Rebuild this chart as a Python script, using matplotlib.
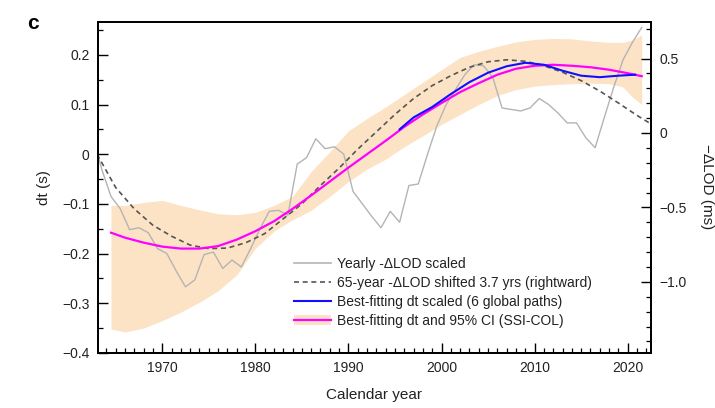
import numpy as np
import matplotlib
matplotlib.use("Agg")
import matplotlib.pyplot as plt
from matplotlib.lines import Line2D
from matplotlib.patches import Patch
from matplotlib.ticker import MultipleLocator, FuncFormatter

plt.rcParams['font.family'] = ['Liberation Sans', 'DejaVu Sans']

# yearly -dLOD scaled (values at mid-year)
lod_year = np.arange(1962, 2022) + 0.5
lod_yearly = [0.04, -0.03, -0.085, -0.11, -0.152, -0.148, -0.158, -0.19, -0.2, -0.235,
              -0.267, -0.253, -0.202, -0.197, -0.23, -0.213, -0.227, -0.19, -0.15, -0.115,
              -0.113, -0.123, -0.02, -0.007, 0.031, 0.011, 0.015, 0.0, -0.075, -0.10,
              -0.125, -0.148, -0.115, -0.137, -0.063, -0.06, 0.0, 0.057, 0.1, 0.13,
              0.16, 0.18, 0.178, 0.155, 0.093, 0.09, 0.087, 0.093, 0.112, 0.1,
              0.083, 0.063, 0.063, 0.033, 0.013, 0.075, 0.135, 0.19, 0.225, 0.255]

# 65-year -dLOD shifted 3.7 yrs
lod65_year = [1963, 1965, 1967, 1969, 1971, 1973, 1975, 1977, 1979, 1981, 1983, 1985,
              1987, 1989, 1991, 1993, 1995, 1997, 1999, 2001, 2003, 2005, 2007, 2009,
              2011, 2013, 2015, 2017, 2019, 2021, 2022.4]
lod65 = [0.0, -0.067, -0.11, -0.143, -0.165, -0.183, -0.19, -0.189, -0.178, -0.16, -0.13, -0.1,
         -0.063, -0.028, 0.01, 0.045, 0.08, 0.112, 0.138, 0.158, 0.175, 0.186, 0.19, 0.187,
         0.178, 0.165, 0.148, 0.127, 0.103, 0.078, 0.062]

# best-fitting dt (SSI-COL)
ssi_year = [1964.5, 1966, 1968, 1970, 1972, 1974, 1976, 1978, 1980, 1982, 1984, 1986, 1988,
            1990, 1992, 1994, 1996, 1998, 2000, 2002, 2004, 2006, 2008, 2010, 2012, 2014,
            2016, 2018, 2020, 2021.5]
ssi_dt = [-0.158, -0.168, -0.178, -0.186, -0.19, -0.19, -0.185, -0.172, -0.155, -0.135, -0.11,
          -0.083, -0.055, -0.027, 0.0, 0.027, 0.055, 0.08, 0.103, 0.125, 0.143, 0.16, 0.172,
          0.178, 0.18, 0.178, 0.175, 0.17, 0.163, 0.157]

# 95% CI
ci_year = [1964.5, 1966, 1968, 1970, 1972, 1974, 1976, 1978, 1980, 1982, 1984, 1986, 1988,
           1990, 1992, 1994, 1996, 1998, 2000, 2002, 2004, 2006, 2008, 2010, 2012, 2014,
           2016, 2018, 2019.5, 2020.5, 2021.5]
ci_hi = [-0.103, -0.103, -0.097, -0.093, -0.103, -0.112, -0.12, -0.122, -0.117, -0.103, -0.085,
         -0.035, 0.005, 0.047, 0.072, 0.095, 0.12, 0.145, 0.17, 0.195, 0.207, 0.217, 0.226, 0.231,
         0.233, 0.232, 0.228, 0.225, 0.225, 0.23, 0.24]
ci_lo = [-0.352, -0.358, -0.35, -0.335, -0.318, -0.298, -0.275, -0.243, -0.19, -0.155, -0.132,
         -0.113, -0.085, -0.055, -0.03, -0.01, 0.015, 0.037, 0.06, 0.08, 0.1, 0.118, 0.13,
         0.137, 0.14, 0.142, 0.143, 0.142, 0.135, 0.115, 0.1]

# best-fitting dt scaled (6 global paths)
paths_year = [1995.5, 1997, 1999, 2001, 2003, 2005, 2007, 2009, 2011, 2013, 2015, 2017, 2019, 2020.8]
paths_dt = [0.05, 0.074, 0.095, 0.121, 0.145, 0.164, 0.177, 0.184, 0.18, 0.168, 0.158, 0.155, 0.158, 0.16]

txt = '#222222'
fig = plt.figure(figsize=(7.15, 4.08), dpi=100)
ax = fig.add_axes([0.137, 0.135, 0.7735, 0.811])

ax.fill_between(ci_year, ci_lo, ci_hi, color='#fde3c6', lw=0, zorder=1)
ax.plot(lod_year, lod_yearly, color='#b4b4b4', lw=1.0, zorder=2)
ax.plot(lod65_year, lod65, color='#555555', lw=1.2, ls=(0, (3, 2.2)), zorder=3)
ax.plot(ssi_year, ssi_dt, color='#ff00ff', lw=1.6, zorder=4)
ax.plot(paths_year, paths_dt, color='#1010ff', lw=1.5, zorder=5)

ax.set_xlim(1963.1, 2022.5)
ax.set_ylim(-0.4, 0.266)
ax.xaxis.set_major_locator(MultipleLocator(10))
ax.xaxis.set_minor_locator(MultipleLocator(1))
ax.yaxis.set_major_locator(MultipleLocator(0.1))
ax.yaxis.set_minor_locator(MultipleLocator(0.05))

def fmt(v, pos):
    if abs(v) < 1e-9:
        return '0'
    return ('%.1f' % v).replace('-', '\u2212')

ax.yaxis.set_major_formatter(FuncFormatter(fmt))
ax.tick_params(which='major', direction='in', length=7, width=1, labelsize=10,
               colors='black', labelcolor=txt, pad=6)
ax.tick_params(which='minor', direction='in', length=3.5, width=0.9)
ax.tick_params(axis='x', which='both', top=False)
for s in ax.spines.values():
    s.set_linewidth(1.3)

ax.set_xlabel('Calendar year', fontsize=11, color=txt, labelpad=9)
ax.set_ylabel('dt (s)', fontsize=11, color=txt, labelpad=8)

ax2 = ax.twinx()
ax2.set_ylim(-1.477, 0.745)
ax2.yaxis.set_major_locator(MultipleLocator(0.5))
ax2.yaxis.set_minor_locator(MultipleLocator(0.1))
ax2.yaxis.set_major_formatter(FuncFormatter(fmt))
ax2.tick_params(which='major', direction='in', length=7, width=1, labelsize=10,
                labelcolor=txt, pad=6)
ax2.tick_params(which='minor', direction='in', length=3.5, width=0.9)
for s in ax2.spines.values():
    s.set_linewidth(1.3)

fig.text(0.999, 0.542, '\u2212\u0394LOD (ms)', rotation=270, ha='right', va='center',
         fontsize=11, color=txt)
fig.text(0.038, 0.93, 'c', fontsize=15, fontweight='bold', color='black')

handles = [Line2D([0], [0], color='#b4b4b4', lw=1.2),
           Line2D([0], [0], color='#555555', lw=1.2, ls=(0, (3, 2.2))),
           Line2D([0], [0], color='#1010ff', lw=1.5),
           (Patch(facecolor='#fde3c6', edgecolor='none'), Line2D([0], [0], color='#ff00ff', lw=1.6))]
labels = ['Yearly -\u0394LOD scaled',
          '65-year -\u0394LOD shifted 3.7 yrs (rightward)',
          'Best-fitting dt scaled (6 global paths)',
          'Best-fitting dt and 95% CI (SSI-COL)']
leg = ax.legend(handles, labels, loc='upper left', bbox_to_anchor=(0.354, 0.29),
                frameon=False, fontsize=10, handlelength=2.7, handletextpad=0.45,
                labelspacing=0.35, borderaxespad=0, borderpad=0)
for t in leg.get_texts():
    t.set_color(txt)

fig.savefig('out.png', dpi=100)
